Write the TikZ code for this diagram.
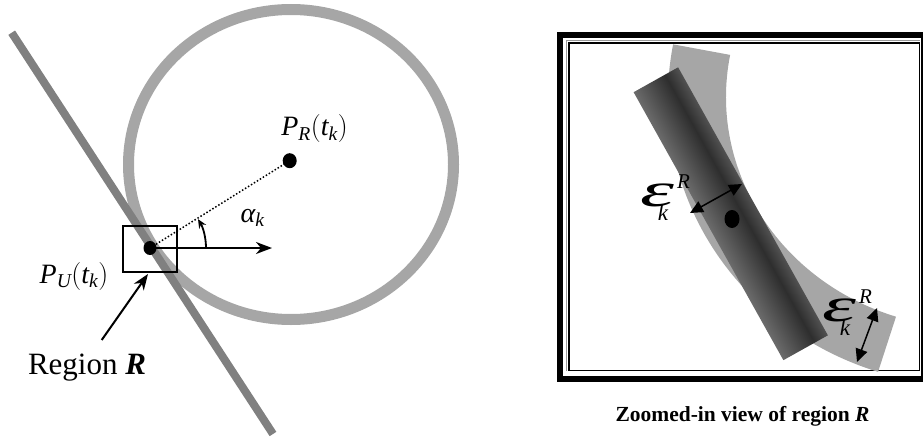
\RequirePackage{fix-cm}
\documentclass[tikz,border=0pt]{standalone}
\usepackage{fontspec}
\setmainfont{Liberation Serif}
\usepackage{graphicx}
\usetikzlibrary{arrows.meta,shapes.geometric,calc}
\definecolor{ringgray}{HTML}{A6A6A6}
\definecolor{linegray}{HTML}{808080}
\pgfdeclareverticalshading{barshade}{100bp}{color(0bp)=(black!42); color(25bp)=(black!58); color(60bp)=(black!82); color(100bp)=(black!45)}
\newcommand\epsRk{\scalebox{2.15}[1.2]{\fontsize{40}{40}\selectfont\itshape ε}\kern3pt\raisebox{18pt}{\fontsize{21}{24}\selectfont\itshape R}\kern-32pt\raisebox{-14pt}{\fontsize{23}{26}\selectfont\itshape k}}
\newcommand\malpha{\mbox{\itshape α}}
\begin{document}
\begin{tikzpicture}[x=1pt,y=1pt,
  dotnode/.style={ellipse, fill=black, inner sep=0pt},
  blackarrow/.style={line width=2pt, -{Stealth[length=16pt,width=12pt,inset=5pt]}},
  dblarrow/.style={line width=1.5pt, {Triangle[length=13pt,width=12pt]}-{Triangle[length=13pt,width=12pt]}},
  mathlabel/.style={font=\fontsize{28}{32}\selectfont, inner sep=0pt}
]
\useasboundingbox (0,0) rectangle (923,440);
\clip (0,0) rectangle (923,440);

% ---------- left panel ----------
\draw[line width=11pt, draw=ringgray] (291,275.5) ellipse [x radius=162.5, y radius=155];
\coordinate (lt) at (11.7,407.3);
\coordinate (lb) at (273,6);
\draw[line width=8pt, draw=linegray] (lt) -- (lb);

\node[draw, line width=2pt, minimum width=54pt, minimum height=46pt, inner sep=0pt] (sq) at (150,191) {};
\node[dotnode, minimum width=13pt, minimum height=14pt] (pu) at (150,192) {};
\node[dotnode, minimum width=14pt, minimum height=15pt] (pr) at (289.7,279.3) {};

\draw[dotted, line width=1.5pt] (pu.center) -- (pr.center);
\coordinate (hx) at (272,192);
\draw[blackarrow] (pu.center) -- (hx);
\draw[line width=1.8pt, -{Stealth[length=9pt,width=8pt,inset=3pt]}] ([shift={(56,0)}]pu.center) arc[start angle=0, end angle=31, radius=56];

\node[mathlabel] (alpha) at (252.5,222) {$\malpha_{\mathit{k}}$};
\node[mathlabel] (prl) at (314.5,311) {$\mathit{P}_{\mathit{R}}(\mathit{t}_{\mathit{k}})$};
\node[mathlabel] (pul) at (74,164) {$\mathit{P}_{\mathit{U}}(\mathit{t}_{\mathit{k}})$};

\coordinate (rt) at (101.7,100);
\draw[blackarrow] (rt) -- ([xshift=-2pt,yshift=-1pt]sq.south);
\node[font=\fontsize{31}{36}\selectfont, inner sep=0pt] (reg) at (87,72) {Region \textbf{\textit{R}}};

% ---------- right panel ----------
\draw[line width=6pt] (560.3,61) rectangle (924,404.5);
\draw[line width=1pt, black!40] (566,69.5) -- (566,399.5) -- (919.5,399.5);
\draw[line width=1.6pt] (569,69.5) rectangle (919.5,397);

\coordinate (c) at (972,343);
\fill[ringgray] ([shift={(169.5:304 and 289)}]c) arc[start angle=169.5, end angle=252, x radius=304, y radius=289]
  -- ([shift={(252:246 and 231)}]c) arc[start angle=252, end angle=169.5, x radius=246, y radius=231] -- cycle;

\begin{scope}[transform canvas={rotate around={-60.8:(730.75,226.25)}}]
  \shade[shading=barshade] (577.25,200.75) rectangle (884.25,251.75);
\end{scope}

\node[dotnode, minimum width=15pt, minimum height=18pt] (dz) at (732,221) {};

\coordinate (e1a) at (690,227);
\coordinate (e1b) at (742,256);
\draw[dblarrow] (e1a) -- (e1b);
\coordinate (e2a) at (877,132);
\coordinate (e2b) at (857,78);
\draw[dblarrow] (e2a) -- (e2b);

\node[anchor=base west, inner sep=0pt] (eps1) at (640,234) {\epsRk};
\node[anchor=base west, inner sep=0pt] (eps2) at (822,119) {\epsRk};

\node[font=\fontsize{21.5}{25}\selectfont\bfseries, inner sep=0pt] (cap) at (742.5,23.5) {Zoomed-in view of region \textit{R}};
\end{tikzpicture}
\end{document}
